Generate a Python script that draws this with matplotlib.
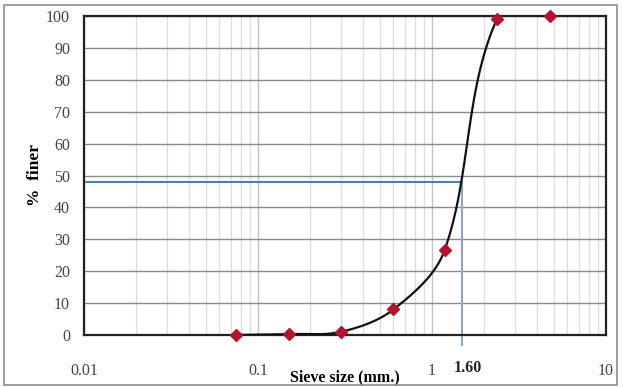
import numpy as np
import matplotlib.pyplot as plt
from matplotlib.patches import Rectangle
from matplotlib.ticker import LogLocator, NullFormatter, FixedLocator

# sieve analysis data
sieve_mm = [0.075, 0.15, 0.3, 0.6, 1.18, 2.36, 4.75]
pct_finer = [0.0, 0.3, 1.0, 8.0, 26.5, 99.0, 100.0]

d50_y = 48.0
d50_x = 1.48
d50_label = '1.60'

x_ticks = [0.01, 0.1, 1, 10]
x_ticklabels = ['0.01', '0.1', '1', '10']
y_ticks = np.arange(0, 101, 10)

SERIF = ['Liberation Serif', 'DejaVu Serif']


def smooth_line(xs, ys, w=522.0, h=320.0, n=80):
    # bezier smoothing, done in pixel-like space so it looks like a spreadsheet curve
    u = (np.log10(xs) + 2) / 3 * w
    v = np.asarray(ys) / 100 * h
    P = np.column_stack([u, v])
    tang = []
    for i in range(len(P)):
        a = P[max(i - 1, 0)]
        b = P[min(i + 1, len(P) - 1)]
        d = b - a
        tang.append(d / np.hypot(*d))
    out = []
    for i in range(len(P) - 1):
        p1, p2 = P[i], P[i + 1]
        L = np.hypot(*(p2 - p1)) / 3
        c1 = p1 + tang[i] * L
        c2 = p2 - tang[i + 1] * L
        t = np.linspace(0, 1, n)[:, None]
        seg = (1 - t) ** 3 * p1 + 3 * (1 - t) ** 2 * t * c1 + 3 * (1 - t) * t ** 2 * c2 + t ** 3 * p2
        out.append(seg)
    seg = np.vstack(out)
    return 10 ** (seg[:, 0] / w * 3 - 2), seg[:, 1] / h * 100


fig = plt.figure(figsize=(6.29, 3.87), dpi=100)
ax = fig.add_axes([84 / 629, 1 - 335 / 387, 522 / 629, 319 / 387])

ax.set_xscale('log')
ax.set_xlim(0.01, 10)
ax.set_ylim(0, 100)

ax.xaxis.set_major_locator(FixedLocator(x_ticks))
ax.xaxis.set_minor_locator(LogLocator(base=10, subs=np.arange(2, 10)))
ax.xaxis.set_minor_formatter(NullFormatter())
ax.set_xticklabels(x_ticklabels)
ax.set_yticks(y_ticks)

ax.grid(which='minor', axis='x', color='#dcdcdc', lw=0.9)
ax.grid(which='major', axis='x', color='#c4c4c4', lw=1.0)
ax.grid(which='major', axis='y', color='#8a8a8a', lw=1.0)
ax.set_axisbelow(True)

for s in ax.spines.values():
    s.set_color('#222222')
    s.set_linewidth(1.6)

ax.tick_params(which='both', length=0)
ax.tick_params(axis='x', pad=20)
ax.tick_params(axis='y', pad=10)
for lbl in ax.get_xticklabels() + ax.get_yticklabels():
    lbl.set_family(SERIF)
    lbl.set_fontsize(11.5)
    lbl.set_color('#444444')

# D50 guide lines
ax.plot([0.01, d50_x], [d50_y, d50_y], color='#4f7db8', lw=1.5, zorder=2)
ax.plot([d50_x, d50_x], [-3, d50_y], color='#8ea6c6', lw=1.5, zorder=2, clip_on=False)

sx, sy = smooth_line(sieve_mm, pct_finer)
ax.plot(sx, sy, color='#111111', lw=1.6, zorder=3)
ax.plot(sieve_mm, pct_finer, ls='none', marker='D', ms=6, color='#b5122e',
        markeredgecolor='#b5122e', zorder=4, clip_on=False)

ax.text(1.6, -10.5, d50_label, ha='center', va='center', fontsize=11.5,
        fontweight='bold', family=SERIF, color='#222222')

ax.set_xlabel('Sieve size (mm.)', family=SERIF, fontsize=11.5, fontweight='bold',
              va='center')
ax.xaxis.set_label_coords(0.5, -(377 - 335) / 319)
ax.set_ylabel('%  finer', family=SERIF, fontsize=12.5, fontweight='bold', labelpad=2)

fig.patches.append(Rectangle((4 / 629, 2 / 387), 613 / 629, 380 / 387,
                             transform=fig.transFigure, fill=False,
                             edgecolor='#8c8c8c', lw=1.2))

fig.savefig('out.png', dpi=100)
